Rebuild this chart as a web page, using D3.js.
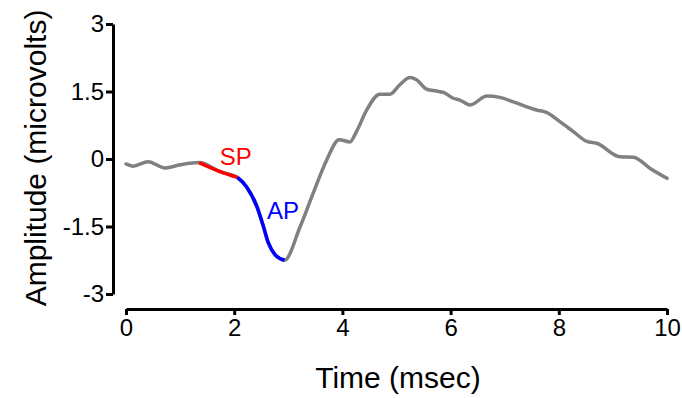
<!DOCTYPE html>
<html>
<head>
<meta charset="utf-8">
<script src="https://cdn.jsdelivr.net/npm/d3@7"></script>
<style>
  html, body { margin: 0; padding: 0; background: #fff; }
  svg { display: block; font-family: "Liberation Sans", Arial, Helvetica, sans-serif; }
</style>
</head>
<body>
<svg id="chart" width="682" height="398"></svg>
<script>
// ---- data ----
const timeMs = [0, 0.13, 0.41, 0.72, 1.0, 1.35, 1.74, 2.06, 2.23, 2.42, 2.54, 2.63, 2.75, 2.93,
  3.22, 3.46, 3.71, 3.94, 4.14, 4.26, 4.45, 4.69, 4.88, 5.06, 5.25, 5.37, 5.56, 5.74, 5.87,
  6.05, 6.17, 6.36, 6.67, 6.91, 7.16, 7.59, 7.78, 8.02, 8.27, 8.52, 8.70, 9.13, 9.38, 9.69, 10.0];
const amplitudeUV = [-0.11, -0.16, -0.06, -0.20, -0.13, -0.08, -0.28, -0.41, -0.62, -1.06, -1.50, -1.86, -2.12, -2.25,
  -1.50, -0.76, -0.02, 0.43, 0.38, 0.61, 1.09, 1.44, 1.44, 1.65, 1.81, 1.76, 1.55, 1.51, 1.48,
  1.35, 1.31, 1.20, 1.40, 1.37, 1.27, 1.09, 1.03, 0.83, 0.61, 0.39, 0.35, 0.05, 0.04, -0.21, -0.43];
const segmentNames = ["SP", "AP"];
const segmentStart = [1.35, 2.06];
const segmentEnd = [2.06, 2.93];
const segmentColors = ["#ff0000", "#0000ff"];
const labelTime = [2.03, 2.90];
const labelAmp = [-0.13, -1.33];
const xTicks = [0, 2, 4, 6, 8, 10];
const yTicks = [-3, -1.5, 0, 1.5, 3];
const yTickLabels = ["-3", "-1.5", "0", "1.5", "3"];

// ---- layout ----
const svg = d3.select("#chart");
const x = d3.scaleLinear().domain([0, 10]).range([126, 667]);
const y = d3.scaleLinear().domain([-3, 3]).range([294, 24]);

const pts = timeMs.map((t, i) => ({ t, v: amplitudeUV[i] }));
const line = d3.line().x(d => x(d.t)).y(d => y(d.v)).curve(d3.curveMonotoneX);

// axes
const xAxis = d3.axisBottom(x).tickValues(xTicks).tickSize(6).tickSizeOuter(0).tickPadding(4)
  .tickFormat(d3.format("d"));
const gx = svg.append("g").attr("transform", "translate(0,309)").call(xAxis);
const yAxis = d3.axisLeft(y).tickValues(yTicks).tickSize(7).tickSizeOuter(0).tickPadding(2)
  .tickFormat((d, i) => yTickLabels[i]);
const gy = svg.append("g").attr("transform", "translate(113,0)").call(yAxis);

[gx, gy].forEach(g => {
  g.select(".domain").attr("stroke", "#000").attr("stroke-width", 3);
  g.selectAll(".tick line").attr("stroke", "#000").attr("stroke-width", 3);
  g.selectAll(".tick text").attr("fill", "#000").attr("font-size", 24)
    .attr("font-family", "Liberation Sans, Arial, sans-serif");
});

// axis titles
svg.append("text").attr("x", 398).attr("y", 388).attr("text-anchor", "middle")
  .attr("font-size", 30).attr("fill", "#000").text("Time (msec)");
svg.append("text").attr("transform", "translate(46,158) rotate(-90)").attr("text-anchor", "middle")
  .attr("font-size", 30).attr("fill", "#000").text("Amplitude (microvolts)");

// main trace
svg.append("path").datum(pts).attr("d", line).attr("fill", "none")
  .attr("stroke", "#808080").attr("stroke-width", 3.5).attr("stroke-linejoin", "round").attr("stroke-linecap", "round");

// highlighted segments
segmentNames.forEach((name, k) => {
  const seg = pts.filter(d => d.t >= segmentStart[k] - 1e-9 && d.t <= segmentEnd[k] + 1e-9);
  svg.append("path").datum(seg).attr("d", line).attr("fill", "none")
    .attr("stroke", segmentColors[k]).attr("stroke-width", 3.5).attr("stroke-linecap", "butt");
  svg.append("text").attr("x", x(labelTime[k])).attr("y", y(labelAmp[k]))
    .attr("text-anchor", "middle").attr("font-size", 24).attr("fill", segmentColors[k]).text(name);
});
</script>
</body>
</html>
